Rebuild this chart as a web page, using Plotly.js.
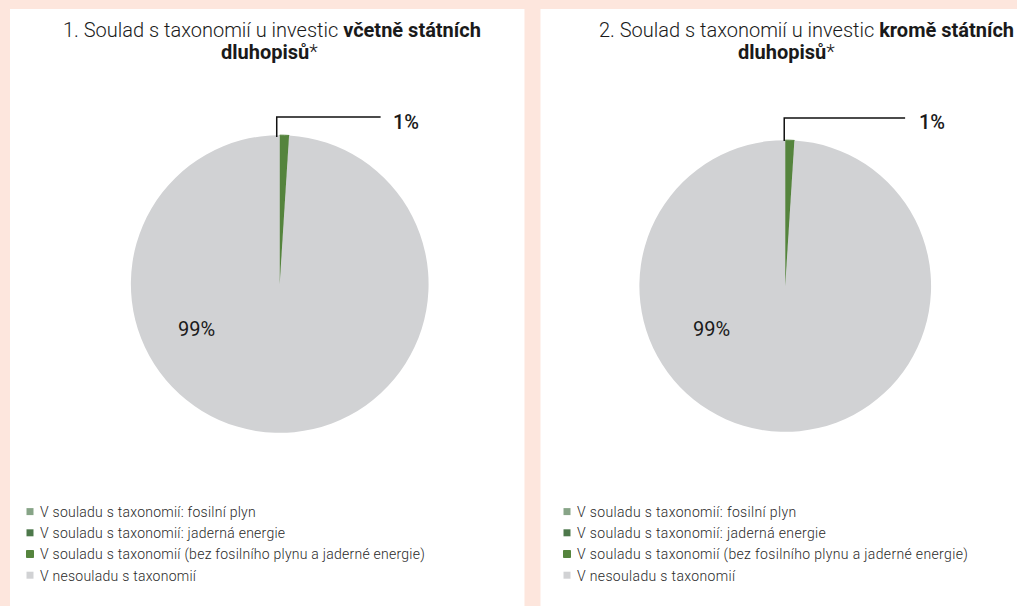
<!DOCTYPE html>
<html>
<head>
<meta charset="utf-8">
<script src="https://cdn.plot.ly/plotly-3.0.1.min.js"></script>
<style>
  html, body { margin: 0; padding: 0; background: #fde6dd; }
  #chart { width: 1017px; height: 606px; }
  path.legendpie { d: path("M13.5,3.5H6.5V-3.5H13.5Z"); }
  text.legendtext { letter-spacing: 0.25px; }
  text.legend2text { letter-spacing: 0.35px; }
</style>
</head>
<body>
<div id="chart"></div>
<script>
// ---- data ----
const categories = [
  "V souladu s taxonomií: fosilní plyn",
  "V souladu s taxonomií: jaderná energie",
  "V souladu s taxonomií (bez fosilního plynu a jaderné energie)",
  "V nesouladu s taxonomií"
];
const valuesIncl = [0, 0, 1, 99];   // 1. včetně státních dluhopisů
const valuesExcl = [0, 0, 1, 99];   // 2. kromě státních dluhopisů
const labelsIncl = ["1%", "99%"];
const labelsExcl = ["1%", "99%"];
const title1 = ["1. Soulad s taxonomií u investic <b>včetně státních</b>", "<b>dluhopisů</b>*"];
const title2 = ["2. Soulad s taxonomií u investic <b>kromě státních</b>", "<b>dluhopisů</b>*"];

// ---- style ----
const colors = ["#87a487", "#4d784b", "#55843d", "#d1d2d4"];
const W = 1017, H = 606;
const fx = x => x / W;
const fy = y => 1 - y / H;
const FONT = "Roboto";

// second chart gets its own legend; a trailing no-break space keeps its entries separate
const categories2 = categories.map(c => c + "\u00a0");

function pie(labels, values, dom, legendId) {
  return {
    type: "pie",
    labels: labels,
    values: values,
    sort: false,
    direction: "clockwise",
    rotation: 0,
    textinfo: "none",
    hoverinfo: "label+percent",
    marker: { colors: colors, line: { color: "#55843d", width: [0, 0, 1, 0] } },
    domain: dom,
    legend: legendId,
    showlegend: true
  };
}

const data = [
  pie(categories, valuesIncl, { x: [fx(130), fx(428)], y: [fy(433), fy(135)] }, "legend"),
  pie(categories2, valuesExcl, { x: [fx(639), fx(931)], y: [fy(432), fy(140)] }, "legend2")
];

const ann = [];
function titleAnn(text, x, y) {
  ann.push({ xref: "paper", yref: "paper", x: fx(x), y: fy(y), text: text,
    showarrow: false, xanchor: "center", yanchor: "middle",
    font: { family: FONT, size: 20, color: "#1a1a1a", weight: 300 } });
}
titleAnn(title1[0], 271, 30);
titleAnn(title1[1], 269, 52);
titleAnn(title2[0], 806, 30);
titleAnn(title2[1], 786, 52);

function valAnn(text, x, y, bold) {
  ann.push({ xref: "paper", yref: "paper", x: fx(x), y: fy(y), text: text,
    showarrow: false, xanchor: "center", yanchor: "middle",
    font: { family: FONT, size: 20, color: "#1a1a1a", weight: bold ? 500 : 400 } });
}
valAnn(labelsIncl[0], 405, 122, true);
valAnn(labelsIncl[1], 196, 329, false);
valAnn(labelsExcl[0], 932, 122, true);
valAnn(labelsExcl[1], 711, 329, false);

function leader(x, yTop, yLine, xEnd) {
  return { type: "path", xref: "paper", yref: "paper",
    path: `M ${fx(x)} ${fy(yTop)} L ${fx(x)} ${fy(yLine)} L ${fx(xEnd)} ${fy(yLine)}`,
    line: { color: "#111", width: 1.5 } };
}

const shapes = [
  { type: "rect", xref: "paper", yref: "paper", x0: fx(9), x1: fx(524), y0: -0.05, y1: fy(9),
    fillcolor: "#ffffff", line: { width: 0 }, layer: "below" },
  { type: "rect", xref: "paper", yref: "paper", x0: fx(540), x1: 1.05, y0: -0.05, y1: fy(9),
    fillcolor: "#ffffff", line: { width: 0 }, layer: "below" },
  leader(276, 137, 117, 380),
  leader(784, 141, 118, 905)
];

const legendBase = {
  yanchor: "top", xanchor: "left",
  font: { family: FONT, size: 14, color: "#2a2a2a", weight: 300 },
  bgcolor: "rgba(0,0,0,0)", itemwidth: 30, tracegroupgap: 0,
  itemclick: false, itemdoubleclick: false
};

const layout = {
  width: W, height: H,
  margin: { l: 0, r: 0, t: 0, b: 0 },
  paper_bgcolor: "#fde6dd",
  plot_bgcolor: "#fde6dd",
  showlegend: true,
  legend: Object.assign({}, legendBase, { x: fx(-1), y: fy(496) }),
  legend2: Object.assign({}, legendBase, { x: fx(537), y: fy(496) }),
  annotations: ann,
  shapes: shapes
};

Plotly.newPlot("chart", data, layout, { displayModeBar: false, staticPlot: true });
</script>
</body>
</html>
